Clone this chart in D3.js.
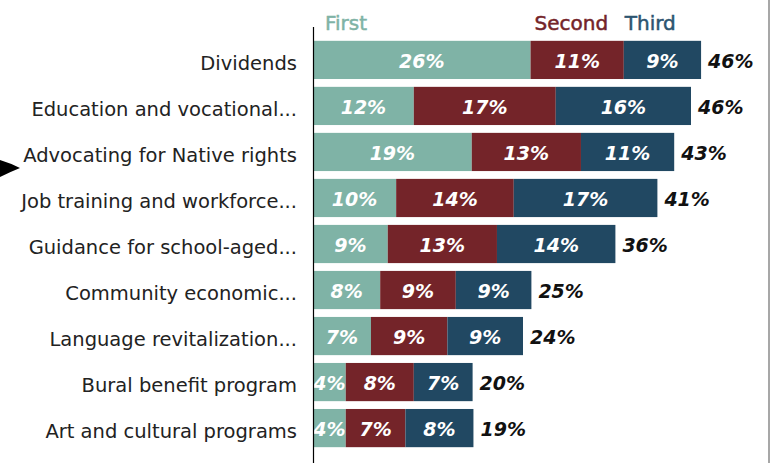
<!DOCTYPE html>
<html>
<head>
<meta charset="utf-8">
<script src="https://cdn.jsdelivr.net/npm/d3@7"></script>
<style>
  body { margin: 0; background: #fff; }
  svg { display: block; }
  .cat { font-family: "DejaVu Sans", sans-serif; font-size: 19.5px; fill: #222; }
  .seg { font-family: "DejaVu Sans", sans-serif; font-size: 19px; font-weight: bold; font-style: italic; fill: #fff; }
  .tot { font-family: "DejaVu Sans", sans-serif; font-size: 19px; font-weight: bold; font-style: italic; fill: #111; }
  .leg { font-family: "DejaVu Sans", sans-serif; font-size: 20px; stroke-width: 0.5px; }
</style>
</head>
<body>
<script>
//chart data
var categories = ["Dividends", "Education and vocational...", "Advocating for Native rights",
  "Job training and workforce...", "Guidance for school-aged...", "Community economic...",
  "Language revitalization...", "Bural benefit program", "Art and cultural programs"];
var seriesNames = ["First", "Second", "Third"];
var firstVals = [25.9, 12.0, 18.9, 9.9, 8.9, 8.0, 6.9, 3.9, 3.9];
var secondVals = [11.1, 16.9, 13.0, 14.0, 13.0, 9.0, 9.1, 8.1, 7.1];
var thirdVals = [9.2, 16.1, 11.1, 17.1, 14.1, 9.0, 9.0, 7.0, 8.1];
var totalLabels = ["46%", "46%", "43%", "41%", "36%", "25%", "24%", "20%", "19%"];
var colors = ["#7fb3a6", "#742429", "#214862"];
var legendColors = ["#7fb3a6", "#742429", "#2c5470"];

var width = 776, height = 463;

var svg = d3.select("body").append("svg")
    .attr("width", width)
    .attr("height", height);

//scales
var x = d3.scaleLinear()
    .domain([0, 46])
    .range([313, 699.4]);

var y = d3.scaleBand()
    .domain(categories)
    .range([33, 455])
    .paddingInner(0.17)
    .paddingOuter(0.17);

//build stacked rows
var rows = categories.map(function(c, i){
  return {cat: c, First: firstVals[i], Second: secondVals[i], Third: thirdVals[i], total: totalLabels[i]};
});
var stack = d3.stack().keys(seriesNames)(rows);

var layers = svg.selectAll(".layer")
    .data(stack)
    .enter()
    .append("g")
    .attr("class", "layer")
    .attr("fill", function(d, i){ return colors[i]; });

layers.selectAll("rect")
    .data(function(d){ return d; })
    .enter()
    .append("rect")
    .attr("x", function(d){ return x(d[0]); })
    .attr("y", function(d){ return y(d.data.cat); })
    .attr("width", function(d){ return x(d[1]) - x(d[0]); })
    .attr("height", y.bandwidth());

//segment labels
layers.selectAll("text")
    .data(function(d){ return d; })
    .enter()
    .append("text")
    .attr("class", "seg")
    .attr("x", function(d){ return (x(d[0]) + x(d[1])) / 2; })
    .attr("y", function(d){ return y(d.data.cat) + y.bandwidth() / 2 + 8; })
    .attr("text-anchor", "middle")
    .text(function(d){ return Math.round(d[1] - d[0]) + "%"; });

//totals
svg.selectAll(".tot")
    .data(stack[2])
    .enter()
    .append("text")
    .attr("class", "tot")
    .attr("x", function(d){ return x(d[1]) + 7; })
    .attr("y", function(d){ return y(d.data.cat) + y.bandwidth() / 2 + 8; })
    .text(function(d){ return d.data.total; });

//category labels
svg.selectAll(".cat")
    .data(categories)
    .enter()
    .append("text")
    .attr("class", "cat")
    .attr("x", 297)
    .attr("y", function(d){ return y(d) + y.bandwidth() / 2 + 10; })
    .attr("text-anchor", "end")
    .text(function(d){ return d; });

//legend sits over the first row's segments
var legendOffsets = [12, 4, 1];
svg.selectAll(".leg")
    .data(stack)
    .enter()
    .append("text")
    .attr("class", "leg")
    .attr("x", function(d, i){ return x(d[0][0]) + legendOffsets[i]; })
    .attr("y", 30)
    .attr("fill", function(d, i){ return legendColors[i]; })
    .attr("stroke", function(d, i){ return legendColors[i]; })
    .text(function(d){ return d.key; });

//vertical axis line
svg.append("line")
    .attr("x1", 313.5).attr("x2", 313.5)
    .attr("y1", 27).attr("y2", height)
    .attr("stroke", "#000")
    .attr("stroke-width", 1.2);

//right border line
svg.append("line")
    .attr("x1", 769).attr("x2", 769)
    .attr("y1", 0).attr("y2", height)
    .attr("stroke", "#8a8a8a")
    .attr("stroke-width", 1.5);

//pointer arrow on the left
svg.append("path")
    .attr("d", "M0,160 Q10,163 20,168 Q10,172 0,177 Z")
    .attr("fill", "#000");
</script>
</body>
</html>
